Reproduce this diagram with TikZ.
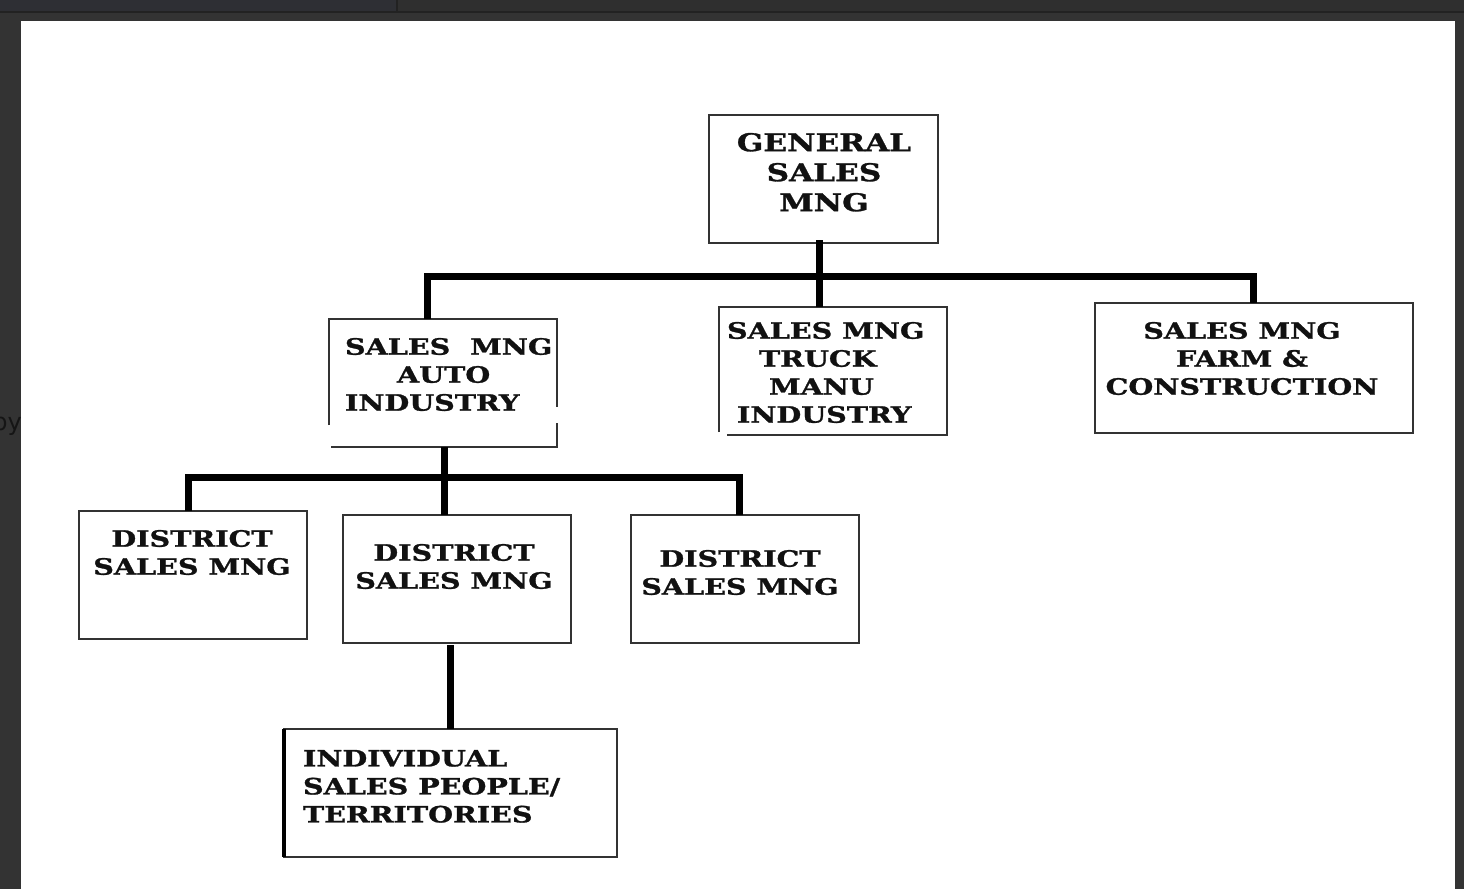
\documentclass[tikz,border=0pt]{standalone}
\usepackage{fontspec}
\setmainfont{DejaVu Serif}
\newfontfamily\boxfont[FakeStretch=1.27,FakeBold=1.2]{DejaVu Serif}
\newfontfamily\pyfont{DejaVu Sans}
\usetikzlibrary{calc}
\definecolor{bgdark}{HTML}{333333}
\definecolor{bartop}{HTML}{2E2F34}
\definecolor{bartop2}{HTML}{2F2F2F}
\definecolor{barline}{HTML}{222222}
\definecolor{boxc}{HTML}{333333}
\definecolor{txtc}{HTML}{111111}
\definecolor{pyc}{HTML}{151515}
\begin{document}
\begin{tikzpicture}[x=1pt,y=-1pt,
  box/.style={inner sep=0pt, outer sep=0pt, minimum width=#1},
  boxdraw/.style={draw=boxc, line width=1.6pt},
  lbl/.style={inner sep=0pt, outer sep=0pt, anchor=north, align=center, text=txtc,
    font=\boxfont\fontsize{22.5}{28}\selectfont\bfseries},
  conn/.style={line width=7pt, line join=miter, draw=black}]
% background / frame
\fill[bgdark] (0,0) rectangle (1464,889);
\fill[bartop] (0,0) rectangle (396,11);
\fill[bartop2] (398,0) rectangle (1464,11);
\fill[barline] (396,0) rectangle (398,11);
\fill[barline] (0,11) rectangle (1464,13);
\fill[white] (21,21) rectangle (1455,889);
\useasboundingbox (0,0) rectangle (1464,889);
\begin{scope}
\clip (0,0) rectangle (21,889);
\node[inner sep=0pt, anchor=east, text=pyc, font=\pyfont\fontsize{24}{28}\selectfont] (py) at (22,426) {py};
\end{scope}
% boxes
\node[box=229pt, boxdraw, minimum height=128pt] (gsm) at (823.5,179) {};
\node[box=228pt, minimum height=128pt] (auto) at (443,383) {};
\draw[boxdraw] ($(auto.south west)+(0,-22)$) -- (auto.north west) -- (auto.north east) -- ($(auto.north east)+(0,88)$)
  ($(auto.south east)+(0,-24)$) -- (auto.south east) -- ($(auto.south west)+(2,0)$);
\node[box=228pt, minimum height=128pt] (truck) at (833,371) {};
\draw[boxdraw] ($(truck.south west)+(0,-3)$) -- (truck.north west) -- (truck.north east) -- (truck.south east) -- ($(truck.south west)+(8,0)$);
\node[box=318pt, boxdraw, minimum height=130pt] (farm) at (1254,368) {};
\node[box=228pt, boxdraw, minimum height=128pt] (d1) at (193,575) {};
\node[box=228pt, boxdraw, minimum height=128pt] (d2) at (457,579) {};
\node[box=228pt, boxdraw, minimum height=128pt] (d3) at (745,579) {};
\node[box=333pt, boxdraw, minimum height=128pt] (indiv) at (450.5,793) {};
\draw[line width=4pt, draw=black] (indiv.north west) -- (indiv.south west);
% labels
\node[lbl, font=\boxfont\fontsize{24.5}{30}\selectfont\bfseries] (tgsm) at (824,133) {GENERAL\\SALES\\MNG};
\node[lbl, anchor=north west, align=left] (tauto) at (345,338) {SALES\ \ MNG\\\hspace*{52pt}AUTO\\INDUSTRY};
\node[lbl, anchor=north west, align=left] (ttruck) at (727,322) {SALES MNG\\\hspace*{32pt}TRUCK\\\hspace*{42pt}MANU\\\hspace*{10pt}INDUSTRY};
\node[lbl] (tfarm) at (1242,322) {SALES MNG\\FARM \&\\CONSTRUCTION};
\node[lbl] (td1) at (192,530) {DISTRICT\\SALES MNG};
\node[lbl] (td2) at (454,544) {DISTRICT\\SALES MNG};
\node[lbl] (td3) at (740,550) {DISTRICT\\SALES MNG};
\node[lbl, anchor=north west, align=left] (tindiv) at (303,750) {INDIVIDUAL\\SALES PEOPLE/\\TERRITORIES};
% connectors
\coordinate (bus1) at (819,276);
\coordinate (bus2) at (444,477);
\draw[conn] ([xshift=-16pt]auto.north) |- (bus1) -| ([xshift=-1pt]farm.north);
\draw[conn] ($(bus1 |- gsm.south)+(0,-3)$) -- (bus1 |- truck.north);
\draw[conn] ([xshift=-5pt]d1.north) |- (bus2) -| ([xshift=-6pt]d3.north);
\draw[conn] (bus2 |- auto.south) -- (bus2 |- d2.north);
\draw[conn] ($(indiv.north |- d2.south)+(0,2)$) -- (indiv.north);
\end{tikzpicture}
\end{document}
